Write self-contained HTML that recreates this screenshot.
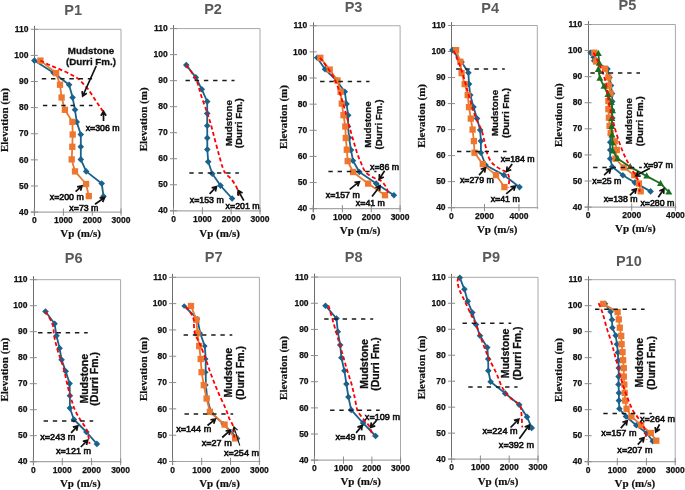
<!DOCTYPE html>
<html><head><meta charset="utf-8"><style>
html,body{margin:0;padding:0;background:#fff;}
svg{display:block;will-change:transform;filter:blur(0.35px);}
.tk{font-family:"Liberation Sans", sans-serif;font-weight:bold;font-size:8.5px;fill:#111111;stroke:#111;stroke-width:0.25px;}
.tt{font-family:"Liberation Sans", sans-serif;font-weight:bold;font-size:14.5px;fill:#595959;}
.al{font-family:"Liberation Serif", serif;font-weight:bold;font-size:11px;fill:#111111;stroke:#111;stroke-width:0.2px;}
.md{font-family:"Liberation Sans", sans-serif;font-weight:bold;font-size:9.8px;fill:#111111;stroke:#111;stroke-width:0.3px;}
.an{font-family:"Liberation Sans", sans-serif;font-size:8.8px;fill:#111111;stroke:#111;stroke-width:0.6px;}
.md.r2{font-size:10.5px;}
.an.r2{font-size:9.1px;}
</style></head><body>
<svg width="685" height="490" viewBox="0 0 685 490">
<rect width="685" height="490" fill="#fff"/>
<path d="M34.3,29.3 H121 V213.6" fill="none" stroke="#A8A8A8" stroke-width="1"/>
<path d="M30.8,212.1 H122" fill="none" stroke="#A6A6A6" stroke-width="1.2"/>
<path d="M34.5,25.8 V215.7" fill="none" stroke="#6E6E6E" stroke-width="1"/>
<path d="M30.8,29.3 H37.8" stroke="#8C8C8C" stroke-width="1"/>
<text x="28.5" y="31.95" text-anchor="end" class="tk">110</text>
<path d="M30.8,55.41 H37.8" stroke="#8C8C8C" stroke-width="1"/>
<text x="28.5" y="58.06" text-anchor="end" class="tk">100</text>
<path d="M30.8,81.53 H37.8" stroke="#8C8C8C" stroke-width="1"/>
<text x="28.5" y="84.18" text-anchor="end" class="tk">90</text>
<path d="M30.8,107.64 H37.8" stroke="#8C8C8C" stroke-width="1"/>
<text x="28.5" y="110.29" text-anchor="end" class="tk">80</text>
<path d="M30.8,133.76 H37.8" stroke="#8C8C8C" stroke-width="1"/>
<text x="28.5" y="136.41" text-anchor="end" class="tk">70</text>
<path d="M30.8,159.87 H37.8" stroke="#8C8C8C" stroke-width="1"/>
<text x="28.5" y="162.52" text-anchor="end" class="tk">60</text>
<path d="M30.8,185.99 H37.8" stroke="#8C8C8C" stroke-width="1"/>
<text x="28.5" y="188.64" text-anchor="end" class="tk">50</text>
<path d="M30.8,212.1 H37.8" stroke="#8C8C8C" stroke-width="1"/>
<text x="28.5" y="214.75" text-anchor="end" class="tk">40</text>
<path d="M34.3,208.5 V215.7" stroke="#8C8C8C" stroke-width="1"/>
<text x="34.3" y="223.2" text-anchor="middle" class="tk">0</text>
<path d="M63.4,208.5 V215.7" stroke="#8C8C8C" stroke-width="1"/>
<text x="63.4" y="223.2" text-anchor="middle" class="tk">1000</text>
<path d="M92.3,208.5 V215.7" stroke="#8C8C8C" stroke-width="1"/>
<text x="92.3" y="223.2" text-anchor="middle" class="tk">2000</text>
<path d="M121,208.5 V215.7" stroke="#8C8C8C" stroke-width="1"/>
<text x="121" y="223.2" text-anchor="middle" class="tk">3000</text>
<text x="73.1" y="14.6" text-anchor="middle" class="tt">P1</text>
<text transform="translate(8,120.1) rotate(-90)" text-anchor="middle" class="al">Elevation (m)</text>
<text x="80.65" y="236.9" text-anchor="middle" class="al">Vp (m/s)</text>
<polyline points="34.4,60.6 53.5,72.7 69.1,84.7 72.6,97.5 75,109.8 76.7,121.9 80.8,134.5 80.8,146.8 80.8,159.4 86.2,171.4 101.7,183.5 103.5,196.2" fill="none" stroke="#1A628B" stroke-width="1.8" stroke-linejoin="round"/>
<path d="M34.4,57.3 l3.3,3.3 l-3.3,3.3 l-3.3,-3.3z" fill="#1A628B"/>
<path d="M53.5,69.4 l3.3,3.3 l-3.3,3.3 l-3.3,-3.3z" fill="#1A628B"/>
<path d="M69.1,81.4 l3.3,3.3 l-3.3,3.3 l-3.3,-3.3z" fill="#1A628B"/>
<path d="M72.6,94.2 l3.3,3.3 l-3.3,3.3 l-3.3,-3.3z" fill="#1A628B"/>
<path d="M75,106.5 l3.3,3.3 l-3.3,3.3 l-3.3,-3.3z" fill="#1A628B"/>
<path d="M76.7,118.6 l3.3,3.3 l-3.3,3.3 l-3.3,-3.3z" fill="#1A628B"/>
<path d="M80.8,131.2 l3.3,3.3 l-3.3,3.3 l-3.3,-3.3z" fill="#1A628B"/>
<path d="M80.8,143.5 l3.3,3.3 l-3.3,3.3 l-3.3,-3.3z" fill="#1A628B"/>
<path d="M80.8,156.1 l3.3,3.3 l-3.3,3.3 l-3.3,-3.3z" fill="#1A628B"/>
<path d="M86.2,168.1 l3.3,3.3 l-3.3,3.3 l-3.3,-3.3z" fill="#1A628B"/>
<path d="M101.7,180.2 l3.3,3.3 l-3.3,3.3 l-3.3,-3.3z" fill="#1A628B"/>
<path d="M103.5,192.9 l3.3,3.3 l-3.3,3.3 l-3.3,-3.3z" fill="#1A628B"/>
<polyline points="40.4,60.6 56.1,73.1 60,84.7 61.6,97.5 64.9,109.8 72.4,121.9 72.7,134.5 72.3,146.8 71.7,159.4 75,171.4 86.1,184 88.8,196.1" fill="none" stroke="#EE772F" stroke-width="1.8" stroke-linejoin="round"/>
<rect x="37.25" y="57.45" width="6.3" height="6.3" fill="#EE772F"/>
<rect x="52.95" y="69.95" width="6.3" height="6.3" fill="#EE772F"/>
<rect x="56.85" y="81.55" width="6.3" height="6.3" fill="#EE772F"/>
<rect x="58.45" y="94.35" width="6.3" height="6.3" fill="#EE772F"/>
<rect x="61.75" y="106.65" width="6.3" height="6.3" fill="#EE772F"/>
<rect x="69.25" y="118.75" width="6.3" height="6.3" fill="#EE772F"/>
<rect x="69.55" y="131.35" width="6.3" height="6.3" fill="#EE772F"/>
<rect x="69.15" y="143.65" width="6.3" height="6.3" fill="#EE772F"/>
<rect x="68.55" y="156.25" width="6.3" height="6.3" fill="#EE772F"/>
<rect x="71.85" y="168.25" width="6.3" height="6.3" fill="#EE772F"/>
<rect x="82.95" y="180.85" width="6.3" height="6.3" fill="#EE772F"/>
<rect x="85.65" y="192.95" width="6.3" height="6.3" fill="#EE772F"/>
<path d="M40.4,60.5 C41.63,61.12 45.13,62.97 47.8,64.2 C50.47,65.43 53.55,66.68 56.4,67.9 C59.25,69.12 62.25,70.28 64.9,71.5 C67.55,72.72 70.05,73.97 72.3,75.2 C74.55,76.43 76.57,77.47 78.4,78.9 C80.23,80.33 81.67,82.07 83.3,83.8 C84.93,85.53 86.57,87.17 88.2,89.3 C89.83,91.43 91.47,94.15 93.1,96.6 C94.73,99.05 96.37,101.55 98,104 C99.63,106.45 102.08,110.08 102.9,111.3" fill="none" stroke="#FF0000" stroke-width="1.8" stroke-dasharray="4 2.6"/>
<path d="M41.8,78.8 H92.1" stroke="#1A1A1A" stroke-width="1.5" stroke-dasharray="4.4 4.8"/>
<path d="M42.9,105.6 H92.5" stroke="#1A1A1A" stroke-width="1.5" stroke-dasharray="4.4 4.8"/>
<text x="91" y="53.9" text-anchor="middle" class="md">Mudstone</text>
<text x="91" y="64.6" text-anchor="middle" class="md">(Durri Fm.)</text>
<path d="M96.2,66 L82.7,96 M82.07,91.04 L82.7,96 L86.83,93.19" fill="none" stroke="#111" stroke-width="1.7" stroke-linejoin="miter"/>
<path d="M103.5,121 L103.5,111.5 M106.11,115.76 L103.5,111.5 L100.89,115.76" fill="none" stroke="#111" stroke-width="1.7" stroke-linejoin="miter"/>
<path d="M75.6,191.7 L82,185.9 M80.6,190.7 L82,185.9 L77.09,186.83" fill="none" stroke="#111" stroke-width="1.7" stroke-linejoin="miter"/>
<path d="M95,204.3 L104.6,197.5 M102.63,202.1 L104.6,197.5 L99.61,197.83" fill="none" stroke="#111" stroke-width="1.7" stroke-linejoin="miter"/>
<text x="102.7" y="130.5" text-anchor="middle" class="an">x=306 m</text>
<text x="66.8" y="200.3" text-anchor="middle" class="an">x=200 m</text>
<text x="83.9" y="211.3" text-anchor="middle" class="an">x=73 m</text>
<path d="M173.5,28.6 H260 V212.3" fill="none" stroke="#A8A8A8" stroke-width="1"/>
<path d="M170,210.8 H261" fill="none" stroke="#A6A6A6" stroke-width="1.2"/>
<path d="M173.5,25.1 V214.4" fill="none" stroke="#6E6E6E" stroke-width="1"/>
<path d="M170,28.6 H177" stroke="#8C8C8C" stroke-width="1"/>
<text x="167.7" y="31.25" text-anchor="end" class="tk">110</text>
<path d="M170,54.63 H177" stroke="#8C8C8C" stroke-width="1"/>
<text x="167.7" y="57.28" text-anchor="end" class="tk">100</text>
<path d="M170,80.66 H177" stroke="#8C8C8C" stroke-width="1"/>
<text x="167.7" y="83.31" text-anchor="end" class="tk">90</text>
<path d="M170,106.69 H177" stroke="#8C8C8C" stroke-width="1"/>
<text x="167.7" y="109.34" text-anchor="end" class="tk">80</text>
<path d="M170,132.71 H177" stroke="#8C8C8C" stroke-width="1"/>
<text x="167.7" y="135.36" text-anchor="end" class="tk">70</text>
<path d="M170,158.74 H177" stroke="#8C8C8C" stroke-width="1"/>
<text x="167.7" y="161.39" text-anchor="end" class="tk">60</text>
<path d="M170,184.77 H177" stroke="#8C8C8C" stroke-width="1"/>
<text x="167.7" y="187.42" text-anchor="end" class="tk">50</text>
<path d="M170,210.8 H177" stroke="#8C8C8C" stroke-width="1"/>
<text x="167.7" y="213.45" text-anchor="end" class="tk">40</text>
<path d="M173.5,207.2 V214.4" stroke="#8C8C8C" stroke-width="1"/>
<text x="173.5" y="221.9" text-anchor="middle" class="tk">0</text>
<path d="M202.4,207.2 V214.4" stroke="#8C8C8C" stroke-width="1"/>
<text x="202.4" y="221.9" text-anchor="middle" class="tk">1000</text>
<path d="M231.2,207.2 V214.4" stroke="#8C8C8C" stroke-width="1"/>
<text x="231.2" y="221.9" text-anchor="middle" class="tk">2000</text>
<path d="M260,207.2 V214.4" stroke="#8C8C8C" stroke-width="1"/>
<text x="260" y="221.9" text-anchor="middle" class="tk">3000</text>
<text x="213" y="14.4" text-anchor="middle" class="tt">P2</text>
<text transform="translate(147.3,119.35) rotate(-90)" text-anchor="middle" class="al">Elevation (m)</text>
<text x="219.6" y="236.6" text-anchor="middle" class="al">Vp (m/s)</text>
<polyline points="186.3,65.1 195.8,77.4 201.8,89.3 207.2,101.5 207.2,113.4 207.2,125.8 207.3,137.9 207.3,149.4 208.2,161.8 212.3,173.7 220.5,185.6 232.1,198.5" fill="none" stroke="#1A628B" stroke-width="1.8" stroke-linejoin="round"/>
<path d="M186.3,61.8 l3.3,3.3 l-3.3,3.3 l-3.3,-3.3z" fill="#1A628B"/>
<path d="M195.8,74.1 l3.3,3.3 l-3.3,3.3 l-3.3,-3.3z" fill="#1A628B"/>
<path d="M201.8,86 l3.3,3.3 l-3.3,3.3 l-3.3,-3.3z" fill="#1A628B"/>
<path d="M207.2,98.2 l3.3,3.3 l-3.3,3.3 l-3.3,-3.3z" fill="#1A628B"/>
<path d="M207.2,110.1 l3.3,3.3 l-3.3,3.3 l-3.3,-3.3z" fill="#1A628B"/>
<path d="M207.2,122.5 l3.3,3.3 l-3.3,3.3 l-3.3,-3.3z" fill="#1A628B"/>
<path d="M207.3,134.6 l3.3,3.3 l-3.3,3.3 l-3.3,-3.3z" fill="#1A628B"/>
<path d="M207.3,146.1 l3.3,3.3 l-3.3,3.3 l-3.3,-3.3z" fill="#1A628B"/>
<path d="M208.2,158.5 l3.3,3.3 l-3.3,3.3 l-3.3,-3.3z" fill="#1A628B"/>
<path d="M212.3,170.4 l3.3,3.3 l-3.3,3.3 l-3.3,-3.3z" fill="#1A628B"/>
<path d="M220.5,182.3 l3.3,3.3 l-3.3,3.3 l-3.3,-3.3z" fill="#1A628B"/>
<path d="M232.1,195.2 l3.3,3.3 l-3.3,3.3 l-3.3,-3.3z" fill="#1A628B"/>
<path d="M186.3,65.1 C187.93,67.5 193.62,74.38 196.1,79.5 C198.58,84.62 199.38,90.35 201.2,95.8 C203.02,101.25 205.48,107.77 207,112.2 C208.52,116.63 209.17,118.52 210.3,122.4 C211.43,126.28 212.43,130.38 213.8,135.5 C215.17,140.62 217.03,147.8 218.5,153.1 C219.97,158.4 221.42,163.9 222.6,167.3 C223.78,170.7 224.08,171.45 225.6,173.5 C227.12,175.55 229.83,177.22 231.7,179.6 C233.57,181.98 235.65,185.32 236.8,187.8 C237.95,190.28 238.27,192.88 238.6,194.5 C238.93,196.12 238.77,197 238.8,197.5" fill="none" stroke="#FF0000" stroke-width="1.8" stroke-dasharray="4 2.6"/>
<path d="M185.5,80.4 H234.5" stroke="#1A1A1A" stroke-width="1.5" stroke-dasharray="4.4 4.8"/>
<path d="M189.3,173.1 H238.9" stroke="#1A1A1A" stroke-width="1.5" stroke-dasharray="4.4 4.8"/>
<text transform="translate(231.6,123.2) rotate(-90)" text-anchor="middle" class="md">Mudstone</text>
<text transform="translate(242,123.2) rotate(-90)" text-anchor="middle" class="md">(Durri Fm.)</text>
<path d="M209.6,193.8 L216.5,186.6 M215.44,191.49 L216.5,186.6 L211.66,187.87" fill="none" stroke="#111" stroke-width="1.7" stroke-linejoin="miter"/>
<path d="M243.8,200.7 L238.2,190.5 M242.54,192.98 L238.2,190.5 L237.96,195.49" fill="none" stroke="#111" stroke-width="1.7" stroke-linejoin="miter"/>
<text x="206.8" y="202.5" text-anchor="middle" class="an">x=153 m</text>
<text x="242.6" y="208.6" text-anchor="middle" class="an">x=201 m</text>
<path d="M313.1,25.75 H400.1 V210.2" fill="none" stroke="#A8A8A8" stroke-width="1"/>
<path d="M309.6,208.7 H401.1" fill="none" stroke="#A6A6A6" stroke-width="1.2"/>
<path d="M313.5,22.25 V212.3" fill="none" stroke="#6E6E6E" stroke-width="1"/>
<path d="M309.6,25.75 H316.6" stroke="#8C8C8C" stroke-width="1"/>
<text x="307.3" y="28.4" text-anchor="end" class="tk">110</text>
<path d="M309.6,51.89 H316.6" stroke="#8C8C8C" stroke-width="1"/>
<text x="307.3" y="54.54" text-anchor="end" class="tk">100</text>
<path d="M309.6,78.02 H316.6" stroke="#8C8C8C" stroke-width="1"/>
<text x="307.3" y="80.67" text-anchor="end" class="tk">90</text>
<path d="M309.6,104.16 H316.6" stroke="#8C8C8C" stroke-width="1"/>
<text x="307.3" y="106.81" text-anchor="end" class="tk">80</text>
<path d="M309.6,130.29 H316.6" stroke="#8C8C8C" stroke-width="1"/>
<text x="307.3" y="132.94" text-anchor="end" class="tk">70</text>
<path d="M309.6,156.43 H316.6" stroke="#8C8C8C" stroke-width="1"/>
<text x="307.3" y="159.08" text-anchor="end" class="tk">60</text>
<path d="M309.6,182.56 H316.6" stroke="#8C8C8C" stroke-width="1"/>
<text x="307.3" y="185.21" text-anchor="end" class="tk">50</text>
<path d="M309.6,208.7 H316.6" stroke="#8C8C8C" stroke-width="1"/>
<text x="307.3" y="211.35" text-anchor="end" class="tk">40</text>
<path d="M313.1,205.1 V212.3" stroke="#8C8C8C" stroke-width="1"/>
<text x="313.1" y="219.8" text-anchor="middle" class="tk">0</text>
<path d="M342.4,205.1 V212.3" stroke="#8C8C8C" stroke-width="1"/>
<text x="342.4" y="219.8" text-anchor="middle" class="tk">1000</text>
<path d="M371.3,205.1 V212.3" stroke="#8C8C8C" stroke-width="1"/>
<text x="371.3" y="219.8" text-anchor="middle" class="tk">2000</text>
<path d="M400.1,205.1 V212.3" stroke="#8C8C8C" stroke-width="1"/>
<text x="400.1" y="219.8" text-anchor="middle" class="tk">3000</text>
<text x="353.5" y="12" text-anchor="middle" class="tt">P3</text>
<text transform="translate(287.3,117) rotate(-90)" text-anchor="middle" class="al">Elevation (m)</text>
<text x="360.1" y="234" text-anchor="middle" class="al">Vp (m/s)</text>
<polyline points="317.2,57.7 325,69.3 336.6,80.5 344.8,91.8 346.5,103.9 348.2,115.2 348,126.5 349.1,137.8 351,150 353,160.7 359.4,172 376.2,183.6 393.9,195.2" fill="none" stroke="#1A628B" stroke-width="1.8" stroke-linejoin="round"/>
<path d="M317.2,54.4 l3.3,3.3 l-3.3,3.3 l-3.3,-3.3z" fill="#1A628B"/>
<path d="M325,66 l3.3,3.3 l-3.3,3.3 l-3.3,-3.3z" fill="#1A628B"/>
<path d="M336.6,77.2 l3.3,3.3 l-3.3,3.3 l-3.3,-3.3z" fill="#1A628B"/>
<path d="M344.8,88.5 l3.3,3.3 l-3.3,3.3 l-3.3,-3.3z" fill="#1A628B"/>
<path d="M346.5,100.6 l3.3,3.3 l-3.3,3.3 l-3.3,-3.3z" fill="#1A628B"/>
<path d="M348.2,111.9 l3.3,3.3 l-3.3,3.3 l-3.3,-3.3z" fill="#1A628B"/>
<path d="M348,123.2 l3.3,3.3 l-3.3,3.3 l-3.3,-3.3z" fill="#1A628B"/>
<path d="M349.1,134.5 l3.3,3.3 l-3.3,3.3 l-3.3,-3.3z" fill="#1A628B"/>
<path d="M351,146.7 l3.3,3.3 l-3.3,3.3 l-3.3,-3.3z" fill="#1A628B"/>
<path d="M353,157.4 l3.3,3.3 l-3.3,3.3 l-3.3,-3.3z" fill="#1A628B"/>
<path d="M359.4,168.7 l3.3,3.3 l-3.3,3.3 l-3.3,-3.3z" fill="#1A628B"/>
<path d="M376.2,180.3 l3.3,3.3 l-3.3,3.3 l-3.3,-3.3z" fill="#1A628B"/>
<path d="M393.9,191.9 l3.3,3.3 l-3.3,3.3 l-3.3,-3.3z" fill="#1A628B"/>
<polyline points="320.3,57.8 329.7,69.6 337.5,80.5 340.6,91.8 341.8,103.6 343.5,115.2 345.3,126.5 345.8,138 346.8,149.7 347.7,161.1 353,172 368.1,183.6 385,195.2" fill="none" stroke="#EE772F" stroke-width="1.8" stroke-linejoin="round"/>
<rect x="317.15" y="54.65" width="6.3" height="6.3" fill="#EE772F"/>
<rect x="326.55" y="66.45" width="6.3" height="6.3" fill="#EE772F"/>
<rect x="334.35" y="77.35" width="6.3" height="6.3" fill="#EE772F"/>
<rect x="337.45" y="88.65" width="6.3" height="6.3" fill="#EE772F"/>
<rect x="338.65" y="100.45" width="6.3" height="6.3" fill="#EE772F"/>
<rect x="340.35" y="112.05" width="6.3" height="6.3" fill="#EE772F"/>
<rect x="342.15" y="123.35" width="6.3" height="6.3" fill="#EE772F"/>
<rect x="342.65" y="134.85" width="6.3" height="6.3" fill="#EE772F"/>
<rect x="343.65" y="146.55" width="6.3" height="6.3" fill="#EE772F"/>
<rect x="344.55" y="157.95" width="6.3" height="6.3" fill="#EE772F"/>
<rect x="349.85" y="168.85" width="6.3" height="6.3" fill="#EE772F"/>
<rect x="364.95" y="180.45" width="6.3" height="6.3" fill="#EE772F"/>
<rect x="381.85" y="192.05" width="6.3" height="6.3" fill="#EE772F"/>
<path d="M320.1,57.7 C322.42,61.08 330.35,70.95 334,78 C337.65,85.05 339.72,93 342,100 C344.28,107 346.42,115.37 347.7,120 C348.98,124.63 348.72,124.25 349.7,127.8 C350.68,131.35 352.32,136.93 353.6,141.3 C354.88,145.67 356.15,150.38 357.4,154 C358.65,157.62 359.75,160 361.1,163 C362.45,166 363.48,169.58 365.5,172 C367.52,174.42 370.63,176.03 373.2,177.5 C375.77,178.97 378.72,179.15 380.9,180.8 C383.08,182.45 385.03,185.03 386.3,187.4 C387.57,189.77 388.13,193.73 388.5,195" fill="none" stroke="#FF0000" stroke-width="1.8" stroke-dasharray="4 2.6"/>
<path d="M320.1,81.4 H369.5" stroke="#1A1A1A" stroke-width="1.5" stroke-dasharray="4.4 4.8"/>
<path d="M328.4,171.4 H376.5" stroke="#1A1A1A" stroke-width="1.5" stroke-dasharray="4.4 4.8"/>
<text transform="translate(370.7,124.5) rotate(-90)" text-anchor="middle" class="md">Mudstone</text>
<text transform="translate(381.5,124.5) rotate(-90)" text-anchor="middle" class="md">(Durri Fm.)</text>
<path d="M384.6,170.8 L379.3,179.1 M379.39,174.1 L379.3,179.1 L383.8,176.91" fill="none" stroke="#111" stroke-width="1.7" stroke-linejoin="miter"/>
<path d="M349.7,189.4 L359.4,181.7 M357.69,186.4 L359.4,181.7 L354.44,182.3" fill="none" stroke="#111" stroke-width="1.7" stroke-linejoin="miter"/>
<path d="M372,196.6 L380.1,185.9 M379.61,190.88 L380.1,185.9 L375.44,187.72" fill="none" stroke="#111" stroke-width="1.7" stroke-linejoin="miter"/>
<text x="384.6" y="169.6" text-anchor="middle" class="an">x=86 m</text>
<text x="342.8" y="197.7" text-anchor="middle" class="an">x=157 m</text>
<text x="370.4" y="205.5" text-anchor="middle" class="an">x=41 m</text>
<path d="M451.4,25.5 H537.3 V209.2" fill="none" stroke="#A8A8A8" stroke-width="1"/>
<path d="M447.9,207.7 H538.3" fill="none" stroke="#A6A6A6" stroke-width="1.2"/>
<path d="M451.5,22 V211.3" fill="none" stroke="#6E6E6E" stroke-width="1"/>
<path d="M447.9,25.5 H454.9" stroke="#8C8C8C" stroke-width="1"/>
<text x="445.6" y="28.15" text-anchor="end" class="tk">110</text>
<path d="M447.9,51.53 H454.9" stroke="#8C8C8C" stroke-width="1"/>
<text x="445.6" y="54.18" text-anchor="end" class="tk">100</text>
<path d="M447.9,77.56 H454.9" stroke="#8C8C8C" stroke-width="1"/>
<text x="445.6" y="80.21" text-anchor="end" class="tk">90</text>
<path d="M447.9,103.59 H454.9" stroke="#8C8C8C" stroke-width="1"/>
<text x="445.6" y="106.24" text-anchor="end" class="tk">80</text>
<path d="M447.9,129.61 H454.9" stroke="#8C8C8C" stroke-width="1"/>
<text x="445.6" y="132.26" text-anchor="end" class="tk">70</text>
<path d="M447.9,155.64 H454.9" stroke="#8C8C8C" stroke-width="1"/>
<text x="445.6" y="158.29" text-anchor="end" class="tk">60</text>
<path d="M447.9,181.67 H454.9" stroke="#8C8C8C" stroke-width="1"/>
<text x="445.6" y="184.32" text-anchor="end" class="tk">50</text>
<path d="M447.9,207.7 H454.9" stroke="#8C8C8C" stroke-width="1"/>
<text x="445.6" y="210.35" text-anchor="end" class="tk">40</text>
<path d="M451.4,204.1 V211.3" stroke="#8C8C8C" stroke-width="1"/>
<text x="451.4" y="218.8" text-anchor="middle" class="tk">0</text>
<path d="M484.5,204.1 V211.3" stroke="#8C8C8C" stroke-width="1"/>
<text x="484.5" y="218.8" text-anchor="middle" class="tk">2000</text>
<path d="M519,204.1 V211.3" stroke="#8C8C8C" stroke-width="1"/>
<text x="519" y="218.8" text-anchor="middle" class="tk">4000</text>
<text x="490.2" y="12.6" text-anchor="middle" class="tt">P4</text>
<text transform="translate(425.3,115.9) rotate(-90)" text-anchor="middle" class="al">Elevation (m)</text>
<text x="497.2" y="233" text-anchor="middle" class="al">Vp (m/s)</text>
<polyline points="452.4,50.1 461.6,62 468.4,72.7 469,84.1 470.3,95.1 473.5,107 477,118.6 480.2,130.1 480.9,141.1 480.9,152.7 485.5,165 503.9,175.1 519.5,187.1" fill="none" stroke="#1A628B" stroke-width="1.8" stroke-linejoin="round"/>
<path d="M452.4,46.8 l3.3,3.3 l-3.3,3.3 l-3.3,-3.3z" fill="#1A628B"/>
<path d="M461.6,58.7 l3.3,3.3 l-3.3,3.3 l-3.3,-3.3z" fill="#1A628B"/>
<path d="M468.4,69.4 l3.3,3.3 l-3.3,3.3 l-3.3,-3.3z" fill="#1A628B"/>
<path d="M469,80.8 l3.3,3.3 l-3.3,3.3 l-3.3,-3.3z" fill="#1A628B"/>
<path d="M470.3,91.8 l3.3,3.3 l-3.3,3.3 l-3.3,-3.3z" fill="#1A628B"/>
<path d="M473.5,103.7 l3.3,3.3 l-3.3,3.3 l-3.3,-3.3z" fill="#1A628B"/>
<path d="M477,115.3 l3.3,3.3 l-3.3,3.3 l-3.3,-3.3z" fill="#1A628B"/>
<path d="M480.2,126.8 l3.3,3.3 l-3.3,3.3 l-3.3,-3.3z" fill="#1A628B"/>
<path d="M480.9,137.8 l3.3,3.3 l-3.3,3.3 l-3.3,-3.3z" fill="#1A628B"/>
<path d="M480.9,149.4 l3.3,3.3 l-3.3,3.3 l-3.3,-3.3z" fill="#1A628B"/>
<path d="M485.5,161.7 l3.3,3.3 l-3.3,3.3 l-3.3,-3.3z" fill="#1A628B"/>
<path d="M503.9,171.8 l3.3,3.3 l-3.3,3.3 l-3.3,-3.3z" fill="#1A628B"/>
<path d="M519.5,183.8 l3.3,3.3 l-3.3,3.3 l-3.3,-3.3z" fill="#1A628B"/>
<polyline points="456.1,50.1 460.3,61.7 461.6,73.1 464.7,84.1 467.7,95.1 469,107.1 470.8,118.6 472.6,129.6 473.9,141.1 474.5,152.7 482.8,164.1 496,175.1 504.4,187.1" fill="none" stroke="#EE772F" stroke-width="1.8" stroke-linejoin="round"/>
<rect x="452.95" y="46.95" width="6.3" height="6.3" fill="#EE772F"/>
<rect x="457.15" y="58.55" width="6.3" height="6.3" fill="#EE772F"/>
<rect x="458.45" y="69.95" width="6.3" height="6.3" fill="#EE772F"/>
<rect x="461.55" y="80.95" width="6.3" height="6.3" fill="#EE772F"/>
<rect x="464.55" y="91.95" width="6.3" height="6.3" fill="#EE772F"/>
<rect x="465.85" y="103.95" width="6.3" height="6.3" fill="#EE772F"/>
<rect x="467.65" y="115.45" width="6.3" height="6.3" fill="#EE772F"/>
<rect x="469.45" y="126.45" width="6.3" height="6.3" fill="#EE772F"/>
<rect x="470.75" y="137.95" width="6.3" height="6.3" fill="#EE772F"/>
<rect x="471.35" y="149.55" width="6.3" height="6.3" fill="#EE772F"/>
<rect x="479.65" y="160.95" width="6.3" height="6.3" fill="#EE772F"/>
<rect x="492.85" y="171.95" width="6.3" height="6.3" fill="#EE772F"/>
<rect x="501.25" y="183.95" width="6.3" height="6.3" fill="#EE772F"/>
<path d="M453.5,50.5 C454.83,53.75 459.2,63.42 461.5,70 C463.8,76.58 465.38,83.33 467.3,90 C469.22,96.67 471.42,105 473,110 C474.58,115 475.33,116.5 476.8,120 C478.27,123.5 480.5,127.33 481.8,131 C483.1,134.67 483.82,138.78 484.6,142 C485.38,145.22 485.97,148.05 486.5,150.3 C487.03,152.55 486.98,153.53 487.8,155.5 C488.62,157.47 489.95,160.23 491.4,162.1 C492.85,163.97 494.8,165.42 496.5,166.7 C498.2,167.98 500.07,168.95 501.6,169.8 C503.13,170.65 504.58,170.95 505.7,171.8 C506.82,172.65 507.7,173.78 508.3,174.9 C508.9,176.02 509.18,177.22 509.3,178.5 C509.42,179.78 509.17,181.07 509,182.6 C508.83,184.13 508.42,186.85 508.3,187.7" fill="none" stroke="#FF0000" stroke-width="1.8" stroke-dasharray="4 2.6"/>
<path d="M456.1,69 H504.8" stroke="#1A1A1A" stroke-width="1.5" stroke-dasharray="4.4 4.8"/>
<path d="M457,151.6 H506.6" stroke="#1A1A1A" stroke-width="1.5" stroke-dasharray="4.4 4.8"/>
<text transform="translate(497.6,113) rotate(-90)" text-anchor="middle" class="md">Mudstone</text>
<text transform="translate(508.5,113) rotate(-90)" text-anchor="middle" class="md">(Durri Fm.)</text>
<path d="M512.2,164.1 L506.6,171.5 M507.09,166.52 L506.6,171.5 L511.26,169.68" fill="none" stroke="#111" stroke-width="1.7" stroke-linejoin="miter"/>
<path d="M479.1,175.1 L485.5,167.8 M484.66,172.73 L485.5,167.8 L480.72,169.28" fill="none" stroke="#111" stroke-width="1.7" stroke-linejoin="miter"/>
<path d="M506.2,193.8 L515.4,186.1 M513.81,190.84 L515.4,186.1 L510.45,186.83" fill="none" stroke="#111" stroke-width="1.7" stroke-linejoin="miter"/>
<text x="517.7" y="162.2" text-anchor="middle" class="an">x=184 m</text>
<text x="476.9" y="183.2" text-anchor="middle" class="an">x=279 m</text>
<text x="505.2" y="201.7" text-anchor="middle" class="an">x=41 m</text>
<path d="M588.1,24.5 H675.4 V208.6" fill="none" stroke="#A8A8A8" stroke-width="1"/>
<path d="M584.6,207.1 H676.4" fill="none" stroke="#A6A6A6" stroke-width="1.2"/>
<path d="M588.5,21 V210.7" fill="none" stroke="#6E6E6E" stroke-width="1"/>
<path d="M584.6,24.5 H591.6" stroke="#8C8C8C" stroke-width="1"/>
<text x="582.3" y="27.15" text-anchor="end" class="tk">110</text>
<path d="M584.6,50.59 H591.6" stroke="#8C8C8C" stroke-width="1"/>
<text x="582.3" y="53.24" text-anchor="end" class="tk">100</text>
<path d="M584.6,76.67 H591.6" stroke="#8C8C8C" stroke-width="1"/>
<text x="582.3" y="79.32" text-anchor="end" class="tk">90</text>
<path d="M584.6,102.76 H591.6" stroke="#8C8C8C" stroke-width="1"/>
<text x="582.3" y="105.41" text-anchor="end" class="tk">80</text>
<path d="M584.6,128.84 H591.6" stroke="#8C8C8C" stroke-width="1"/>
<text x="582.3" y="131.49" text-anchor="end" class="tk">70</text>
<path d="M584.6,154.93 H591.6" stroke="#8C8C8C" stroke-width="1"/>
<text x="582.3" y="157.58" text-anchor="end" class="tk">60</text>
<path d="M584.6,181.01 H591.6" stroke="#8C8C8C" stroke-width="1"/>
<text x="582.3" y="183.66" text-anchor="end" class="tk">50</text>
<path d="M584.6,207.1 H591.6" stroke="#8C8C8C" stroke-width="1"/>
<text x="582.3" y="209.75" text-anchor="end" class="tk">40</text>
<path d="M588.1,203.5 V210.7" stroke="#8C8C8C" stroke-width="1"/>
<text x="588.1" y="218.2" text-anchor="middle" class="tk">0</text>
<path d="M631.7,203.5 V210.7" stroke="#8C8C8C" stroke-width="1"/>
<text x="631.7" y="218.2" text-anchor="middle" class="tk">2000</text>
<path d="M675.4,203.5 V210.7" stroke="#8C8C8C" stroke-width="1"/>
<text x="675.4" y="218.2" text-anchor="middle" class="tk">4000</text>
<text x="627.4" y="10.3" text-anchor="middle" class="tt">P5</text>
<text transform="translate(561.8,115.2) rotate(-90)" text-anchor="middle" class="al">Elevation (m)</text>
<text x="635.4" y="232.4" text-anchor="middle" class="al">Vp (m/s)</text>
<polyline points="590.6,52.7 593.7,57.2 594.2,60.8 607.5,69 609.5,77.5 611,85.5 612,93.5 612.3,101.5 612,110 612.3,118 611.5,126 610.8,134 610.2,142.3 610.2,150 610.2,158.7 612.2,166.8 622.8,175.2 634.8,182.6 650.6,191.4" fill="none" stroke="#1A628B" stroke-width="1.8" stroke-linejoin="round"/>
<path d="M590.6,49.4 l3.3,3.3 l-3.3,3.3 l-3.3,-3.3z" fill="#1A628B"/>
<path d="M593.7,53.9 l3.3,3.3 l-3.3,3.3 l-3.3,-3.3z" fill="#1A628B"/>
<path d="M594.2,57.5 l3.3,3.3 l-3.3,3.3 l-3.3,-3.3z" fill="#1A628B"/>
<path d="M607.5,65.7 l3.3,3.3 l-3.3,3.3 l-3.3,-3.3z" fill="#1A628B"/>
<path d="M609.5,74.2 l3.3,3.3 l-3.3,3.3 l-3.3,-3.3z" fill="#1A628B"/>
<path d="M611,82.2 l3.3,3.3 l-3.3,3.3 l-3.3,-3.3z" fill="#1A628B"/>
<path d="M612,90.2 l3.3,3.3 l-3.3,3.3 l-3.3,-3.3z" fill="#1A628B"/>
<path d="M612.3,98.2 l3.3,3.3 l-3.3,3.3 l-3.3,-3.3z" fill="#1A628B"/>
<path d="M612,106.7 l3.3,3.3 l-3.3,3.3 l-3.3,-3.3z" fill="#1A628B"/>
<path d="M612.3,114.7 l3.3,3.3 l-3.3,3.3 l-3.3,-3.3z" fill="#1A628B"/>
<path d="M611.5,122.7 l3.3,3.3 l-3.3,3.3 l-3.3,-3.3z" fill="#1A628B"/>
<path d="M610.8,130.7 l3.3,3.3 l-3.3,3.3 l-3.3,-3.3z" fill="#1A628B"/>
<path d="M610.2,139 l3.3,3.3 l-3.3,3.3 l-3.3,-3.3z" fill="#1A628B"/>
<path d="M610.2,146.7 l3.3,3.3 l-3.3,3.3 l-3.3,-3.3z" fill="#1A628B"/>
<path d="M610.2,155.4 l3.3,3.3 l-3.3,3.3 l-3.3,-3.3z" fill="#1A628B"/>
<path d="M612.2,163.5 l3.3,3.3 l-3.3,3.3 l-3.3,-3.3z" fill="#1A628B"/>
<path d="M622.8,171.9 l3.3,3.3 l-3.3,3.3 l-3.3,-3.3z" fill="#1A628B"/>
<path d="M634.8,179.3 l3.3,3.3 l-3.3,3.3 l-3.3,-3.3z" fill="#1A628B"/>
<path d="M650.6,188.1 l3.3,3.3 l-3.3,3.3 l-3.3,-3.3z" fill="#1A628B"/>
<polyline points="594.3,52.7 596,61.5 605,68.7 608.4,77.4 608.9,85.6 610.5,93.5 608.4,101.1 608.4,109.2 608.9,117.7 609.6,126 610.7,133.2 614.8,141.3 616.8,150 615.5,158.7 623.7,167.4 634.3,175.2 638.9,183.5 640.7,191.3" fill="none" stroke="#EE772F" stroke-width="1.8" stroke-linejoin="round"/>
<rect x="591.15" y="49.55" width="6.3" height="6.3" fill="#EE772F"/>
<rect x="592.85" y="58.35" width="6.3" height="6.3" fill="#EE772F"/>
<rect x="601.85" y="65.55" width="6.3" height="6.3" fill="#EE772F"/>
<rect x="605.25" y="74.25" width="6.3" height="6.3" fill="#EE772F"/>
<rect x="605.75" y="82.45" width="6.3" height="6.3" fill="#EE772F"/>
<rect x="607.35" y="90.35" width="6.3" height="6.3" fill="#EE772F"/>
<rect x="605.25" y="97.95" width="6.3" height="6.3" fill="#EE772F"/>
<rect x="605.25" y="106.05" width="6.3" height="6.3" fill="#EE772F"/>
<rect x="605.75" y="114.55" width="6.3" height="6.3" fill="#EE772F"/>
<rect x="606.45" y="122.85" width="6.3" height="6.3" fill="#EE772F"/>
<rect x="607.55" y="130.05" width="6.3" height="6.3" fill="#EE772F"/>
<rect x="611.65" y="138.15" width="6.3" height="6.3" fill="#EE772F"/>
<rect x="613.65" y="146.85" width="6.3" height="6.3" fill="#EE772F"/>
<rect x="612.35" y="155.55" width="6.3" height="6.3" fill="#EE772F"/>
<rect x="620.55" y="164.25" width="6.3" height="6.3" fill="#EE772F"/>
<rect x="631.15" y="172.05" width="6.3" height="6.3" fill="#EE772F"/>
<rect x="635.75" y="180.35" width="6.3" height="6.3" fill="#EE772F"/>
<rect x="637.55" y="188.15" width="6.3" height="6.3" fill="#EE772F"/>
<polyline points="598.3,53.5 599.3,63.4 598.3,69.5 599.9,78.3 604,86.4 608,94.6 611.3,102.7 612.5,110.9 611.8,118.7 611.7,126.5 612,135 612.4,142.9 612.8,151 617.5,158.5 630.2,166.9 646.7,176.1 660.5,183.5 668.8,192.2" fill="none" stroke="#1B6E20" stroke-width="1.8" stroke-linejoin="round"/>
<path d="M598.3,49.7 l3.5,6.2 h-7z" fill="#1B6E20"/>
<path d="M599.3,59.6 l3.5,6.2 h-7z" fill="#1B6E20"/>
<path d="M598.3,65.7 l3.5,6.2 h-7z" fill="#1B6E20"/>
<path d="M599.9,74.5 l3.5,6.2 h-7z" fill="#1B6E20"/>
<path d="M604,82.6 l3.5,6.2 h-7z" fill="#1B6E20"/>
<path d="M608,90.8 l3.5,6.2 h-7z" fill="#1B6E20"/>
<path d="M611.3,98.9 l3.5,6.2 h-7z" fill="#1B6E20"/>
<path d="M612.5,107.1 l3.5,6.2 h-7z" fill="#1B6E20"/>
<path d="M611.8,114.9 l3.5,6.2 h-7z" fill="#1B6E20"/>
<path d="M611.7,122.7 l3.5,6.2 h-7z" fill="#1B6E20"/>
<path d="M612,131.2 l3.5,6.2 h-7z" fill="#1B6E20"/>
<path d="M612.4,139.1 l3.5,6.2 h-7z" fill="#1B6E20"/>
<path d="M612.8,147.2 l3.5,6.2 h-7z" fill="#1B6E20"/>
<path d="M617.5,154.7 l3.5,6.2 h-7z" fill="#1B6E20"/>
<path d="M630.2,163.1 l3.5,6.2 h-7z" fill="#1B6E20"/>
<path d="M646.7,172.3 l3.5,6.2 h-7z" fill="#1B6E20"/>
<path d="M660.5,179.7 l3.5,6.2 h-7z" fill="#1B6E20"/>
<path d="M668.8,188.4 l3.5,6.2 h-7z" fill="#1B6E20"/>
<path d="M593.7,52.7 C594.5,54.33 596.97,59.15 598.5,62.5 C600.03,65.85 601.72,69.5 602.9,72.8 C604.08,76.1 604.82,78.82 605.6,82.3 C606.38,85.78 607.13,90.7 607.6,93.7 C608.07,96.7 607.85,97.17 608.4,100.3 C608.95,103.43 610.05,108.75 610.9,112.5 C611.75,116.25 612.6,119.35 613.5,122.8 C614.4,126.25 615.15,129.43 616.3,133.2 C617.45,136.97 619.03,141.67 620.4,145.4 C621.77,149.13 623.13,152.53 624.5,155.6 C625.87,158.67 627.27,161.3 628.6,163.8 C629.93,166.3 631.25,168.55 632.5,170.6 C633.75,172.65 635.03,174.1 636.1,176.1 C637.17,178.1 638.32,179.98 638.9,182.6 C639.48,185.22 639.48,190.27 639.6,191.8" fill="none" stroke="#FF0000" stroke-width="1.8" stroke-dasharray="4 2.6"/>
<path d="M590.4,73 H640" stroke="#1A1A1A" stroke-width="1.5" stroke-dasharray="4.4 4.8"/>
<path d="M593.1,167.4 H641.8" stroke="#1A1A1A" stroke-width="1.5" stroke-dasharray="4.4 4.8"/>
<text transform="translate(632.1,121.3) rotate(-90)" text-anchor="middle" class="md">Mudstone</text>
<text transform="translate(643,121.3) rotate(-90)" text-anchor="middle" class="md">(Durri Fm.)</text>
<path d="M649.9,168.3 L635.7,175.7 M638.27,171.41 L635.7,175.7 L640.69,176.05" fill="none" stroke="#111" stroke-width="1.7" stroke-linejoin="miter"/>
<path d="M604.1,175.1 L610.7,168.9 M609.38,173.72 L610.7,168.9 L605.8,169.91" fill="none" stroke="#111" stroke-width="1.7" stroke-linejoin="miter"/>
<path d="M629.9,195.3 L636.3,188.9 M635.13,193.76 L636.3,188.9 L631.44,190.07" fill="none" stroke="#111" stroke-width="1.7" stroke-linejoin="miter"/>
<path d="M658.3,197.2 L663.9,188.9 M663.68,193.9 L663.9,188.9 L659.35,190.97" fill="none" stroke="#111" stroke-width="1.7" stroke-linejoin="miter"/>
<text x="658.2" y="167.8" text-anchor="middle" class="an">x=97 m</text>
<text x="606.9" y="183.7" text-anchor="middle" class="an">x=25 m</text>
<text x="620.7" y="201.5" text-anchor="middle" class="an">x=138 m</text>
<text x="657.4" y="205.8" text-anchor="middle" class="an">x=280 m</text>
<path d="M33.3,279.7 H120.6 V463.2" fill="none" stroke="#A8A8A8" stroke-width="1"/>
<path d="M29.8,461.7 H121.6" fill="none" stroke="#A6A6A6" stroke-width="1.2"/>
<path d="M33.5,276.2 V465.3" fill="none" stroke="#6E6E6E" stroke-width="1"/>
<path d="M29.8,279.7 H36.8" stroke="#8C8C8C" stroke-width="1"/>
<text x="27.5" y="282.35" text-anchor="end" class="tk">110</text>
<path d="M29.8,305.7 H36.8" stroke="#8C8C8C" stroke-width="1"/>
<text x="27.5" y="308.35" text-anchor="end" class="tk">100</text>
<path d="M29.8,331.7 H36.8" stroke="#8C8C8C" stroke-width="1"/>
<text x="27.5" y="334.35" text-anchor="end" class="tk">90</text>
<path d="M29.8,357.7 H36.8" stroke="#8C8C8C" stroke-width="1"/>
<text x="27.5" y="360.35" text-anchor="end" class="tk">80</text>
<path d="M29.8,383.7 H36.8" stroke="#8C8C8C" stroke-width="1"/>
<text x="27.5" y="386.35" text-anchor="end" class="tk">70</text>
<path d="M29.8,409.7 H36.8" stroke="#8C8C8C" stroke-width="1"/>
<text x="27.5" y="412.35" text-anchor="end" class="tk">60</text>
<path d="M29.8,435.7 H36.8" stroke="#8C8C8C" stroke-width="1"/>
<text x="27.5" y="438.35" text-anchor="end" class="tk">50</text>
<path d="M29.8,461.7 H36.8" stroke="#8C8C8C" stroke-width="1"/>
<text x="27.5" y="464.35" text-anchor="end" class="tk">40</text>
<path d="M33.3,458.1 V465.3" stroke="#8C8C8C" stroke-width="1"/>
<text x="33.3" y="472.8" text-anchor="middle" class="tk">0</text>
<path d="M62.3,458.1 V465.3" stroke="#8C8C8C" stroke-width="1"/>
<text x="62.3" y="472.8" text-anchor="middle" class="tk">1000</text>
<path d="M91.6,458.1 V465.3" stroke="#8C8C8C" stroke-width="1"/>
<text x="91.6" y="472.8" text-anchor="middle" class="tk">2000</text>
<path d="M120.6,458.1 V465.3" stroke="#8C8C8C" stroke-width="1"/>
<text x="120.6" y="472.8" text-anchor="middle" class="tk">3000</text>
<text x="73.6" y="263.1" text-anchor="middle" class="tt">P6</text>
<text transform="translate(7.5,369.7) rotate(-90)" text-anchor="middle" class="al">Elevation (m)</text>
<text x="80.25" y="486.9" text-anchor="middle" class="al">Vp (m/s)</text>
<polyline points="45.5,311.5 54.6,323.8 56.5,335.8 59.6,348.3 61.6,359.7 65.7,371.3 69.6,383.6 69.9,395.8 69.9,408.1 73.9,419.5 86.4,432 96.9,443.9" fill="none" stroke="#1A628B" stroke-width="1.8" stroke-linejoin="round"/>
<path d="M45.5,308.2 l3.3,3.3 l-3.3,3.3 l-3.3,-3.3z" fill="#1A628B"/>
<path d="M54.6,320.5 l3.3,3.3 l-3.3,3.3 l-3.3,-3.3z" fill="#1A628B"/>
<path d="M56.5,332.5 l3.3,3.3 l-3.3,3.3 l-3.3,-3.3z" fill="#1A628B"/>
<path d="M59.6,345 l3.3,3.3 l-3.3,3.3 l-3.3,-3.3z" fill="#1A628B"/>
<path d="M61.6,356.4 l3.3,3.3 l-3.3,3.3 l-3.3,-3.3z" fill="#1A628B"/>
<path d="M65.7,368 l3.3,3.3 l-3.3,3.3 l-3.3,-3.3z" fill="#1A628B"/>
<path d="M69.6,380.3 l3.3,3.3 l-3.3,3.3 l-3.3,-3.3z" fill="#1A628B"/>
<path d="M69.9,392.5 l3.3,3.3 l-3.3,3.3 l-3.3,-3.3z" fill="#1A628B"/>
<path d="M69.9,404.8 l3.3,3.3 l-3.3,3.3 l-3.3,-3.3z" fill="#1A628B"/>
<path d="M73.9,416.2 l3.3,3.3 l-3.3,3.3 l-3.3,-3.3z" fill="#1A628B"/>
<path d="M86.4,428.7 l3.3,3.3 l-3.3,3.3 l-3.3,-3.3z" fill="#1A628B"/>
<path d="M96.9,440.6 l3.3,3.3 l-3.3,3.3 l-3.3,-3.3z" fill="#1A628B"/>
<path d="M45.5,311.5 C46.65,313.57 50.93,319.7 52.4,323.9 C53.87,328.1 53.37,332.12 54.3,336.7 C55.23,341.28 56.47,346.2 58,351.4 C59.53,356.6 61.88,362.1 63.5,367.9 C65.12,373.7 66.42,381.03 67.7,386.2 C68.98,391.37 70,394.95 71.2,398.9 C72.4,402.85 73.37,406.38 74.9,409.9 C76.43,413.42 78.42,416.63 80.4,420 C82.38,423.37 85.27,426.12 86.8,430.1 C88.33,434.08 89.13,441.6 89.6,443.9" fill="none" stroke="#FF0000" stroke-width="1.8" stroke-dasharray="4 2.6"/>
<path d="M38.1,332.7 H87.7" stroke="#1A1A1A" stroke-width="1.5" stroke-dasharray="4.4 4.8"/>
<path d="M43.6,420.9 H93.2" stroke="#1A1A1A" stroke-width="1.5" stroke-dasharray="4.4 4.8"/>
<text transform="translate(87.6,378.8) rotate(-90)" text-anchor="middle" class="md r2">Mudstone</text>
<text transform="translate(97.5,378.8) rotate(-90)" text-anchor="middle" class="md r2">(Durri Fm.)</text>
<path d="M71.1,432.8 L77.7,425.9 M76.64,430.79 L77.7,425.9 L72.87,427.17" fill="none" stroke="#111" stroke-width="1.7" stroke-linejoin="miter"/>
<path d="M80.8,447 L87.7,440.2 M86.5,445.05 L87.7,440.2 L82.83,441.33" fill="none" stroke="#111" stroke-width="1.7" stroke-linejoin="miter"/>
<text x="57.8" y="440.2" text-anchor="middle" class="an r2">x=243 m</text>
<text x="73.6" y="454.4" text-anchor="middle" class="an r2">x=121 m</text>
<path d="M172.7,277.3 H259.4 V463" fill="none" stroke="#A8A8A8" stroke-width="1"/>
<path d="M169.2,461.5 H260.4" fill="none" stroke="#A6A6A6" stroke-width="1.2"/>
<path d="M172.5,273.8 V465.1" fill="none" stroke="#6E6E6E" stroke-width="1"/>
<path d="M169.2,277.3 H176.2" stroke="#8C8C8C" stroke-width="1"/>
<text x="166.9" y="279.95" text-anchor="end" class="tk">110</text>
<path d="M169.2,303.61 H176.2" stroke="#8C8C8C" stroke-width="1"/>
<text x="166.9" y="306.26" text-anchor="end" class="tk">100</text>
<path d="M169.2,329.93 H176.2" stroke="#8C8C8C" stroke-width="1"/>
<text x="166.9" y="332.58" text-anchor="end" class="tk">90</text>
<path d="M169.2,356.24 H176.2" stroke="#8C8C8C" stroke-width="1"/>
<text x="166.9" y="358.89" text-anchor="end" class="tk">80</text>
<path d="M169.2,382.56 H176.2" stroke="#8C8C8C" stroke-width="1"/>
<text x="166.9" y="385.21" text-anchor="end" class="tk">70</text>
<path d="M169.2,408.87 H176.2" stroke="#8C8C8C" stroke-width="1"/>
<text x="166.9" y="411.52" text-anchor="end" class="tk">60</text>
<path d="M169.2,435.19 H176.2" stroke="#8C8C8C" stroke-width="1"/>
<text x="166.9" y="437.84" text-anchor="end" class="tk">50</text>
<path d="M169.2,461.5 H176.2" stroke="#8C8C8C" stroke-width="1"/>
<text x="166.9" y="464.15" text-anchor="end" class="tk">40</text>
<path d="M172.7,457.9 V465.1" stroke="#8C8C8C" stroke-width="1"/>
<text x="172.7" y="472.6" text-anchor="middle" class="tk">0</text>
<path d="M201.7,457.9 V465.1" stroke="#8C8C8C" stroke-width="1"/>
<text x="201.7" y="472.6" text-anchor="middle" class="tk">1000</text>
<path d="M230.5,457.9 V465.1" stroke="#8C8C8C" stroke-width="1"/>
<text x="230.5" y="472.6" text-anchor="middle" class="tk">2000</text>
<path d="M259.4,457.9 V465.1" stroke="#8C8C8C" stroke-width="1"/>
<text x="259.4" y="472.6" text-anchor="middle" class="tk">3000</text>
<text x="213.6" y="262.1" text-anchor="middle" class="tt">P7</text>
<text transform="translate(147.3,369.1) rotate(-90)" text-anchor="middle" class="al">Elevation (m)</text>
<text x="219.5" y="486.7" text-anchor="middle" class="al">Vp (m/s)</text>
<polyline points="184.2,306 197.4,318.9 200.2,333.2 204.8,346.1 205.7,359 205.7,372.2 205.9,385 207.2,398.5 211.2,412.7 223.1,423.7 237.6,438.4" fill="none" stroke="#1A628B" stroke-width="1.8" stroke-linejoin="round"/>
<path d="M184.2,303.2 l2.8,2.8 l-2.8,2.8 l-2.8,-2.8z" fill="#1A628B"/>
<path d="M197.4,316.1 l2.8,2.8 l-2.8,2.8 l-2.8,-2.8z" fill="#1A628B"/>
<path d="M200.2,330.4 l2.8,2.8 l-2.8,2.8 l-2.8,-2.8z" fill="#1A628B"/>
<path d="M204.8,343.3 l2.8,2.8 l-2.8,2.8 l-2.8,-2.8z" fill="#1A628B"/>
<path d="M205.7,356.2 l2.8,2.8 l-2.8,2.8 l-2.8,-2.8z" fill="#1A628B"/>
<path d="M205.7,369.4 l2.8,2.8 l-2.8,2.8 l-2.8,-2.8z" fill="#1A628B"/>
<path d="M205.9,382.2 l2.8,2.8 l-2.8,2.8 l-2.8,-2.8z" fill="#1A628B"/>
<path d="M207.2,395.7 l2.8,2.8 l-2.8,2.8 l-2.8,-2.8z" fill="#1A628B"/>
<path d="M211.2,409.9 l2.8,2.8 l-2.8,2.8 l-2.8,-2.8z" fill="#1A628B"/>
<path d="M223.1,420.9 l2.8,2.8 l-2.8,2.8 l-2.8,-2.8z" fill="#1A628B"/>
<path d="M237.6,435.6 l2.8,2.8 l-2.8,2.8 l-2.8,-2.8z" fill="#1A628B"/>
<polyline points="191,306 196.5,319.8 197.4,333.2 199.2,346.1 200.7,359 201.6,372.2 203.8,385.2 206.6,398.5 209.9,411.8 224.6,424.6 235.1,438.4" fill="none" stroke="#EE772F" stroke-width="1.8" stroke-linejoin="round"/>
<rect x="187.85" y="302.85" width="6.3" height="6.3" fill="#EE772F"/>
<rect x="193.35" y="316.65" width="6.3" height="6.3" fill="#EE772F"/>
<rect x="194.25" y="330.05" width="6.3" height="6.3" fill="#EE772F"/>
<rect x="196.05" y="342.95" width="6.3" height="6.3" fill="#EE772F"/>
<rect x="197.55" y="355.85" width="6.3" height="6.3" fill="#EE772F"/>
<rect x="198.45" y="369.05" width="6.3" height="6.3" fill="#EE772F"/>
<rect x="200.65" y="382.05" width="6.3" height="6.3" fill="#EE772F"/>
<rect x="203.45" y="395.35" width="6.3" height="6.3" fill="#EE772F"/>
<rect x="206.75" y="408.65" width="6.3" height="6.3" fill="#EE772F"/>
<rect x="221.45" y="421.45" width="6.3" height="6.3" fill="#EE772F"/>
<rect x="231.95" y="435.25" width="6.3" height="6.3" fill="#EE772F"/>
<path d="M185.9,306.5 C186.73,307.65 189.62,311.25 190.9,313.4 C192.18,315.55 193.08,317.25 193.6,319.4 C194.12,321.55 193.78,323.87 194,326.3 C194.22,328.73 194.35,331.92 194.9,334 C195.45,336.08 196.47,337.13 197.3,338.8 C198.13,340.47 198.57,340.8 199.9,344 C201.23,347.2 203.65,353.5 205.3,358 C206.95,362.5 208.22,366.65 209.8,371 C211.38,375.35 213.05,379.75 214.8,384.1 C216.55,388.45 218.48,393.02 220.3,397.1 C222.12,401.18 224.22,405.05 225.7,408.6 C227.18,412.15 227.95,415.42 229.2,418.4 C230.45,421.38 232.37,423.32 233.2,426.5 C234.03,429.68 234.03,435.67 234.2,437.5" fill="none" stroke="#FF0000" stroke-width="1.8" stroke-dasharray="4 2.6"/>
<path d="M183.6,334.9 H232.3" stroke="#1A1A1A" stroke-width="1.5" stroke-dasharray="4.4 4.8"/>
<path d="M184.5,414 H233.2" stroke="#1A1A1A" stroke-width="1.5" stroke-dasharray="4.4 4.8"/>
<text transform="translate(232.2,372.8) rotate(-90)" text-anchor="middle" class="md r2">Mudstone</text>
<text transform="translate(244,372.8) rotate(-90)" text-anchor="middle" class="md r2">(Durri Fm.)</text>
<path d="M207.5,425.5 L215.4,419.1 M213.73,423.81 L215.4,419.1 L210.44,419.75" fill="none" stroke="#111" stroke-width="1.7" stroke-linejoin="miter"/>
<path d="M222.2,437.5 L230.5,430.1 M229.06,434.89 L230.5,430.1 L225.58,430.99" fill="none" stroke="#111" stroke-width="1.7" stroke-linejoin="miter"/>
<path d="M239.8,445.7 L233.9,426.8 M237.66,430.09 L233.9,426.8 L232.68,431.65" fill="none" stroke="#111" stroke-width="1.1" stroke-linejoin="miter"/>
<text x="193.7" y="432.3" text-anchor="middle" class="an r2">x=144 m</text>
<text x="216.7" y="446.1" text-anchor="middle" class="an r2">x=27 m</text>
<text x="241.5" y="455.6" text-anchor="middle" class="an r2">x=254 m</text>
<path d="M314.4,277.1 H400.5 V461.7" fill="none" stroke="#A8A8A8" stroke-width="1"/>
<path d="M310.9,460.2 H401.5" fill="none" stroke="#A6A6A6" stroke-width="1.2"/>
<path d="M314.5,273.6 V463.8" fill="none" stroke="#6E6E6E" stroke-width="1"/>
<path d="M310.9,277.1 H317.9" stroke="#8C8C8C" stroke-width="1"/>
<text x="308.6" y="279.75" text-anchor="end" class="tk">110</text>
<path d="M310.9,303.26 H317.9" stroke="#8C8C8C" stroke-width="1"/>
<text x="308.6" y="305.91" text-anchor="end" class="tk">100</text>
<path d="M310.9,329.41 H317.9" stroke="#8C8C8C" stroke-width="1"/>
<text x="308.6" y="332.06" text-anchor="end" class="tk">90</text>
<path d="M310.9,355.57 H317.9" stroke="#8C8C8C" stroke-width="1"/>
<text x="308.6" y="358.22" text-anchor="end" class="tk">80</text>
<path d="M310.9,381.73 H317.9" stroke="#8C8C8C" stroke-width="1"/>
<text x="308.6" y="384.38" text-anchor="end" class="tk">70</text>
<path d="M310.9,407.89 H317.9" stroke="#8C8C8C" stroke-width="1"/>
<text x="308.6" y="410.54" text-anchor="end" class="tk">60</text>
<path d="M310.9,434.04 H317.9" stroke="#8C8C8C" stroke-width="1"/>
<text x="308.6" y="436.69" text-anchor="end" class="tk">50</text>
<path d="M310.9,460.2 H317.9" stroke="#8C8C8C" stroke-width="1"/>
<text x="308.6" y="462.85" text-anchor="end" class="tk">40</text>
<path d="M314.4,456.6 V463.8" stroke="#8C8C8C" stroke-width="1"/>
<text x="314.4" y="471.3" text-anchor="middle" class="tk">0</text>
<path d="M343.5,456.6 V463.8" stroke="#8C8C8C" stroke-width="1"/>
<text x="343.5" y="471.3" text-anchor="middle" class="tk">1000</text>
<path d="M371.9,456.6 V463.8" stroke="#8C8C8C" stroke-width="1"/>
<text x="371.9" y="471.3" text-anchor="middle" class="tk">2000</text>
<path d="M400.5,456.6 V463.8" stroke="#8C8C8C" stroke-width="1"/>
<text x="400.5" y="471.3" text-anchor="middle" class="tk">3000</text>
<text x="353.7" y="262.1" text-anchor="middle" class="tt">P8</text>
<text transform="translate(287.3,368) rotate(-90)" text-anchor="middle" class="al">Elevation (m)</text>
<text x="360.7" y="485.2" text-anchor="middle" class="al">Vp (m/s)</text>
<polyline points="325.5,305.7 336.5,318.5 337.8,331.8 340.2,345 341.4,357.8 344.4,370.7 346.4,384 348.4,397 351.2,409.9 363.1,423.1 375.6,436" fill="none" stroke="#1A628B" stroke-width="1.8" stroke-linejoin="round"/>
<path d="M325.5,302.4 l3.3,3.3 l-3.3,3.3 l-3.3,-3.3z" fill="#1A628B"/>
<path d="M336.5,315.2 l3.3,3.3 l-3.3,3.3 l-3.3,-3.3z" fill="#1A628B"/>
<path d="M337.8,328.5 l3.3,3.3 l-3.3,3.3 l-3.3,-3.3z" fill="#1A628B"/>
<path d="M340.2,341.7 l3.3,3.3 l-3.3,3.3 l-3.3,-3.3z" fill="#1A628B"/>
<path d="M341.4,354.5 l3.3,3.3 l-3.3,3.3 l-3.3,-3.3z" fill="#1A628B"/>
<path d="M344.4,367.4 l3.3,3.3 l-3.3,3.3 l-3.3,-3.3z" fill="#1A628B"/>
<path d="M346.4,380.7 l3.3,3.3 l-3.3,3.3 l-3.3,-3.3z" fill="#1A628B"/>
<path d="M348.4,393.7 l3.3,3.3 l-3.3,3.3 l-3.3,-3.3z" fill="#1A628B"/>
<path d="M351.2,406.6 l3.3,3.3 l-3.3,3.3 l-3.3,-3.3z" fill="#1A628B"/>
<path d="M363.1,419.8 l3.3,3.3 l-3.3,3.3 l-3.3,-3.3z" fill="#1A628B"/>
<path d="M375.6,432.7 l3.3,3.3 l-3.3,3.3 l-3.3,-3.3z" fill="#1A628B"/>
<path d="M328.5,305.5 C329.43,308.75 332.3,318.75 334.1,325 C335.9,331.25 337.72,337.5 339.3,343 C340.88,348.5 342.3,353.5 343.6,358 C344.9,362.5 345.8,365.73 347.1,370 C348.4,374.27 350.2,379.32 351.4,383.6 C352.6,387.88 353.45,391.82 354.3,395.7 C355.15,399.58 355.9,404.27 356.5,406.9 C357.1,409.53 357.13,409.97 357.9,411.5 C358.67,413.03 359.95,414.57 361.1,416.1 C362.25,417.63 363.65,419.32 364.8,420.7 C365.95,422.08 367.08,423.17 368,424.4 C368.92,425.63 369.7,426.72 370.3,428.1 C370.9,429.48 371.22,431.33 371.6,432.7 C371.98,434.07 372.43,435.7 372.6,436.3" fill="none" stroke="#FF0000" stroke-width="1.8" stroke-dasharray="4 2.6"/>
<path d="M324.2,318.9 H373.2" stroke="#1A1A1A" stroke-width="1.5" stroke-dasharray="4.4 4.8"/>
<path d="M330.1,410.3 H379.7" stroke="#1A1A1A" stroke-width="1.5" stroke-dasharray="4.4 4.8"/>
<text transform="translate(368.2,364) rotate(-90)" text-anchor="middle" class="md r2">Mudstone</text>
<text transform="translate(378.6,364) rotate(-90)" text-anchor="middle" class="md r2">(Durri Fm.)</text>
<path d="M376.9,420 L370.5,427.4 M371.31,422.47 L370.5,427.4 L375.27,425.89" fill="none" stroke="#111" stroke-width="1.7" stroke-linejoin="miter"/>
<path d="M356.1,432.9 L362.2,425.5 M361.51,430.45 L362.2,425.5 L357.47,427.13" fill="none" stroke="#111" stroke-width="1.7" stroke-linejoin="miter"/>
<text x="382.4" y="420" text-anchor="middle" class="an r2">x=109 m</text>
<text x="350.6" y="439.7" text-anchor="middle" class="an r2">x=49 m</text>
<path d="M451.6,277.3 H538 V460.6" fill="none" stroke="#A8A8A8" stroke-width="1"/>
<path d="M448.1,459.1 H539" fill="none" stroke="#A6A6A6" stroke-width="1.2"/>
<path d="M451.5,273.8 V462.7" fill="none" stroke="#6E6E6E" stroke-width="1"/>
<path d="M448.1,277.3 H455.1" stroke="#8C8C8C" stroke-width="1"/>
<text x="445.8" y="279.95" text-anchor="end" class="tk">110</text>
<path d="M448.1,303.27 H455.1" stroke="#8C8C8C" stroke-width="1"/>
<text x="445.8" y="305.92" text-anchor="end" class="tk">100</text>
<path d="M448.1,329.24 H455.1" stroke="#8C8C8C" stroke-width="1"/>
<text x="445.8" y="331.89" text-anchor="end" class="tk">90</text>
<path d="M448.1,355.21 H455.1" stroke="#8C8C8C" stroke-width="1"/>
<text x="445.8" y="357.86" text-anchor="end" class="tk">80</text>
<path d="M448.1,381.19 H455.1" stroke="#8C8C8C" stroke-width="1"/>
<text x="445.8" y="383.84" text-anchor="end" class="tk">70</text>
<path d="M448.1,407.16 H455.1" stroke="#8C8C8C" stroke-width="1"/>
<text x="445.8" y="409.81" text-anchor="end" class="tk">60</text>
<path d="M448.1,433.13 H455.1" stroke="#8C8C8C" stroke-width="1"/>
<text x="445.8" y="435.78" text-anchor="end" class="tk">50</text>
<path d="M448.1,459.1 H455.1" stroke="#8C8C8C" stroke-width="1"/>
<text x="445.8" y="461.75" text-anchor="end" class="tk">40</text>
<path d="M451.6,455.5 V462.7" stroke="#8C8C8C" stroke-width="1"/>
<text x="451.6" y="470.2" text-anchor="middle" class="tk">0</text>
<path d="M480.4,455.5 V462.7" stroke="#8C8C8C" stroke-width="1"/>
<text x="480.4" y="470.2" text-anchor="middle" class="tk">1000</text>
<path d="M509.2,455.5 V462.7" stroke="#8C8C8C" stroke-width="1"/>
<text x="509.2" y="470.2" text-anchor="middle" class="tk">2000</text>
<path d="M538,455.5 V462.7" stroke="#8C8C8C" stroke-width="1"/>
<text x="538" y="470.2" text-anchor="middle" class="tk">3000</text>
<text x="491.2" y="262.1" text-anchor="middle" class="tt">P9</text>
<text transform="translate(425.3,367.4) rotate(-90)" text-anchor="middle" class="al">Elevation (m)</text>
<text x="498" y="484.9" text-anchor="middle" class="al">Vp (m/s)</text>
<polyline points="459.8,277.7 464.4,289.3 467.7,301.2 472.3,312.6 476,324.6 480,335.8 487.3,347.5 488.2,359 488.3,370.7 490.6,381.7 505.2,393.4 519.2,404.7 527,416.9 531.7,427.9" fill="none" stroke="#1A628B" stroke-width="1.8" stroke-linejoin="round"/>
<path d="M459.8,274.4 l3.3,3.3 l-3.3,3.3 l-3.3,-3.3z" fill="#1A628B"/>
<path d="M464.4,286 l3.3,3.3 l-3.3,3.3 l-3.3,-3.3z" fill="#1A628B"/>
<path d="M467.7,297.9 l3.3,3.3 l-3.3,3.3 l-3.3,-3.3z" fill="#1A628B"/>
<path d="M472.3,309.3 l3.3,3.3 l-3.3,3.3 l-3.3,-3.3z" fill="#1A628B"/>
<path d="M476,321.3 l3.3,3.3 l-3.3,3.3 l-3.3,-3.3z" fill="#1A628B"/>
<path d="M480,332.5 l3.3,3.3 l-3.3,3.3 l-3.3,-3.3z" fill="#1A628B"/>
<path d="M487.3,344.2 l3.3,3.3 l-3.3,3.3 l-3.3,-3.3z" fill="#1A628B"/>
<path d="M488.2,355.7 l3.3,3.3 l-3.3,3.3 l-3.3,-3.3z" fill="#1A628B"/>
<path d="M488.3,367.4 l3.3,3.3 l-3.3,3.3 l-3.3,-3.3z" fill="#1A628B"/>
<path d="M490.6,378.4 l3.3,3.3 l-3.3,3.3 l-3.3,-3.3z" fill="#1A628B"/>
<path d="M505.2,390.1 l3.3,3.3 l-3.3,3.3 l-3.3,-3.3z" fill="#1A628B"/>
<path d="M519.2,401.4 l3.3,3.3 l-3.3,3.3 l-3.3,-3.3z" fill="#1A628B"/>
<path d="M527,413.6 l3.3,3.3 l-3.3,3.3 l-3.3,-3.3z" fill="#1A628B"/>
<path d="M531.7,424.6 l3.3,3.3 l-3.3,3.3 l-3.3,-3.3z" fill="#1A628B"/>
<path d="M458.7,277.7 C458.5,278.42 457.35,279.92 457.5,282 C457.65,284.08 458.38,287 459.6,290.2 C460.82,293.4 462.93,297.22 464.8,301.2 C466.67,305.18 468.88,310.12 470.8,314.1 C472.72,318.08 474.62,321.12 476.3,325.1 C477.98,329.08 479.38,333.85 480.9,338 C482.42,342.15 483.98,346.43 485.4,350 C486.82,353.57 487.55,355.48 489.4,359.4 C491.25,363.32 494.35,368.8 496.5,373.5 C498.65,378.2 500.15,383.68 502.3,387.6 C504.45,391.52 506.65,394.27 509.4,397 C512.15,399.73 516.85,401.85 518.8,404 C520.75,406.15 520.52,405.98 521.1,409.9 C521.68,413.82 522.1,424.57 522.3,427.5" fill="none" stroke="#FF0000" stroke-width="1.8" stroke-dasharray="4 2.6"/>
<path d="M462.5,323.3 H511.2" stroke="#1A1A1A" stroke-width="1.5" stroke-dasharray="4.4 4.8"/>
<path d="M468.3,386.9 H517.6" stroke="#1A1A1A" stroke-width="1.5" stroke-dasharray="4.4 4.8"/>
<text transform="translate(509.3,353.4) rotate(-90)" text-anchor="middle" class="md r2">Mudstone</text>
<text transform="translate(520.6,353.4) rotate(-90)" text-anchor="middle" class="md r2">(Durri Fm.)</text>
<path d="M510.6,427.5 L518.8,419.2 M517.66,424.07 L518.8,419.2 L513.95,420.4" fill="none" stroke="#111" stroke-width="1.7" stroke-linejoin="miter"/>
<path d="M519.3,438.8 L529.3,425.1 M528.9,430.08 L529.3,425.1 L524.68,427" fill="none" stroke="#111" stroke-width="1.7" stroke-linejoin="miter"/>
<text x="500" y="434.1" text-anchor="middle" class="an r2">x=224 m</text>
<text x="516.4" y="448.2" text-anchor="middle" class="an r2">x=392 m</text>
<path d="M588.1,279.7 H675.2 V463.2" fill="none" stroke="#A8A8A8" stroke-width="1"/>
<path d="M584.6,461.7 H676.2" fill="none" stroke="#A6A6A6" stroke-width="1.2"/>
<path d="M588.5,276.2 V465.3" fill="none" stroke="#6E6E6E" stroke-width="1"/>
<path d="M584.6,279.7 H591.6" stroke="#8C8C8C" stroke-width="1"/>
<text x="582.3" y="282.35" text-anchor="end" class="tk">110</text>
<path d="M584.6,305.7 H591.6" stroke="#8C8C8C" stroke-width="1"/>
<text x="582.3" y="308.35" text-anchor="end" class="tk">100</text>
<path d="M584.6,331.7 H591.6" stroke="#8C8C8C" stroke-width="1"/>
<text x="582.3" y="334.35" text-anchor="end" class="tk">90</text>
<path d="M584.6,357.7 H591.6" stroke="#8C8C8C" stroke-width="1"/>
<text x="582.3" y="360.35" text-anchor="end" class="tk">80</text>
<path d="M584.6,383.7 H591.6" stroke="#8C8C8C" stroke-width="1"/>
<text x="582.3" y="386.35" text-anchor="end" class="tk">70</text>
<path d="M584.6,409.7 H591.6" stroke="#8C8C8C" stroke-width="1"/>
<text x="582.3" y="412.35" text-anchor="end" class="tk">60</text>
<path d="M584.6,435.7 H591.6" stroke="#8C8C8C" stroke-width="1"/>
<text x="582.3" y="438.35" text-anchor="end" class="tk">50</text>
<path d="M584.6,461.7 H591.6" stroke="#8C8C8C" stroke-width="1"/>
<text x="582.3" y="464.35" text-anchor="end" class="tk">40</text>
<path d="M588.1,458.1 V465.3" stroke="#8C8C8C" stroke-width="1"/>
<text x="588.1" y="472.8" text-anchor="middle" class="tk">0</text>
<path d="M617.3,458.1 V465.3" stroke="#8C8C8C" stroke-width="1"/>
<text x="617.3" y="472.8" text-anchor="middle" class="tk">1000</text>
<path d="M646.4,458.1 V465.3" stroke="#8C8C8C" stroke-width="1"/>
<text x="646.4" y="472.8" text-anchor="middle" class="tk">2000</text>
<path d="M675.2,458.1 V465.3" stroke="#8C8C8C" stroke-width="1"/>
<text x="675.2" y="472.8" text-anchor="middle" class="tk">3000</text>
<text x="628.8" y="265.7" text-anchor="middle" class="tt">P10</text>
<text transform="translate(561.8,370) rotate(-90)" text-anchor="middle" class="al">Elevation (m)</text>
<text x="634.9" y="487.1" text-anchor="middle" class="al">Vp (m/s)</text>
<polyline points="605,303.7 610.6,311.7 612,319.8 612.4,327.7 615.7,335.6 617,344.2 617.9,352.5 618.3,360.4 618.8,368.1 618.6,376.6 618.5,384.5 618.9,392.9 618.9,400.6 619.4,408.8 626,416.5 636.3,425.2 646.6,433 652.8,441.3" fill="none" stroke="#1A628B" stroke-width="1.8" stroke-linejoin="round"/>
<path d="M605,300.4 l3.3,3.3 l-3.3,3.3 l-3.3,-3.3z" fill="#1A628B"/>
<path d="M610.6,308.4 l3.3,3.3 l-3.3,3.3 l-3.3,-3.3z" fill="#1A628B"/>
<path d="M612,316.5 l3.3,3.3 l-3.3,3.3 l-3.3,-3.3z" fill="#1A628B"/>
<path d="M612.4,324.4 l3.3,3.3 l-3.3,3.3 l-3.3,-3.3z" fill="#1A628B"/>
<path d="M615.7,332.3 l3.3,3.3 l-3.3,3.3 l-3.3,-3.3z" fill="#1A628B"/>
<path d="M617,340.9 l3.3,3.3 l-3.3,3.3 l-3.3,-3.3z" fill="#1A628B"/>
<path d="M617.9,349.2 l3.3,3.3 l-3.3,3.3 l-3.3,-3.3z" fill="#1A628B"/>
<path d="M618.3,357.1 l3.3,3.3 l-3.3,3.3 l-3.3,-3.3z" fill="#1A628B"/>
<path d="M618.8,364.8 l3.3,3.3 l-3.3,3.3 l-3.3,-3.3z" fill="#1A628B"/>
<path d="M618.6,373.3 l3.3,3.3 l-3.3,3.3 l-3.3,-3.3z" fill="#1A628B"/>
<path d="M618.5,381.2 l3.3,3.3 l-3.3,3.3 l-3.3,-3.3z" fill="#1A628B"/>
<path d="M618.9,389.6 l3.3,3.3 l-3.3,3.3 l-3.3,-3.3z" fill="#1A628B"/>
<path d="M618.9,397.3 l3.3,3.3 l-3.3,3.3 l-3.3,-3.3z" fill="#1A628B"/>
<path d="M619.4,405.5 l3.3,3.3 l-3.3,3.3 l-3.3,-3.3z" fill="#1A628B"/>
<path d="M626,413.2 l3.3,3.3 l-3.3,3.3 l-3.3,-3.3z" fill="#1A628B"/>
<path d="M636.3,421.9 l3.3,3.3 l-3.3,3.3 l-3.3,-3.3z" fill="#1A628B"/>
<path d="M646.6,429.7 l3.3,3.3 l-3.3,3.3 l-3.3,-3.3z" fill="#1A628B"/>
<path d="M652.8,438 l3.3,3.3 l-3.3,3.3 l-3.3,-3.3z" fill="#1A628B"/>
<polyline points="603.2,303.9 617.6,312.1 618.8,319.4 619.8,327.7 621.2,335.9 621.6,344.2 622.5,352.1 623.1,360.2 623.8,368.1 623.8,376.6 624.3,384.5 624.7,392.9 625.2,400.6 626.6,408.8 631.4,416.5 641.1,425.2 650.8,433 656.3,440.7" fill="none" stroke="#EE772F" stroke-width="1.8" stroke-linejoin="round"/>
<rect x="600.05" y="300.75" width="6.3" height="6.3" fill="#EE772F"/>
<rect x="614.45" y="308.95" width="6.3" height="6.3" fill="#EE772F"/>
<rect x="615.65" y="316.25" width="6.3" height="6.3" fill="#EE772F"/>
<rect x="616.65" y="324.55" width="6.3" height="6.3" fill="#EE772F"/>
<rect x="618.05" y="332.75" width="6.3" height="6.3" fill="#EE772F"/>
<rect x="618.45" y="341.05" width="6.3" height="6.3" fill="#EE772F"/>
<rect x="619.35" y="348.95" width="6.3" height="6.3" fill="#EE772F"/>
<rect x="619.95" y="357.05" width="6.3" height="6.3" fill="#EE772F"/>
<rect x="620.65" y="364.95" width="6.3" height="6.3" fill="#EE772F"/>
<rect x="620.65" y="373.45" width="6.3" height="6.3" fill="#EE772F"/>
<rect x="621.15" y="381.35" width="6.3" height="6.3" fill="#EE772F"/>
<rect x="621.55" y="389.75" width="6.3" height="6.3" fill="#EE772F"/>
<rect x="622.05" y="397.45" width="6.3" height="6.3" fill="#EE772F"/>
<rect x="623.45" y="405.65" width="6.3" height="6.3" fill="#EE772F"/>
<rect x="628.25" y="413.35" width="6.3" height="6.3" fill="#EE772F"/>
<rect x="637.95" y="422.05" width="6.3" height="6.3" fill="#EE772F"/>
<rect x="647.65" y="429.85" width="6.3" height="6.3" fill="#EE772F"/>
<rect x="653.15" y="437.55" width="6.3" height="6.3" fill="#EE772F"/>
<path d="M598.6,303.2 C599.08,304.33 600.67,307.8 601.5,310 C602.33,312.2 602.67,313.18 603.6,316.4 C604.53,319.62 605.8,325.02 607.1,329.3 C608.4,333.58 610.25,338.32 611.4,342.1 C612.55,345.88 613.18,348.93 614,352 C614.82,355.07 615.33,356.85 616.3,360.5 C617.27,364.15 618.65,369.65 619.8,373.9 C620.95,378.15 621.9,381.95 623.2,386 C624.5,390.05 626,394.15 627.6,398.2 C629.2,402.25 630.92,406.83 632.8,410.3 C634.68,413.77 637.02,416.1 638.9,419 C640.78,421.9 642.8,424.22 644.1,427.7 C645.4,431.18 646.27,437.87 646.7,439.9" fill="none" stroke="#FF0000" stroke-width="1.8" stroke-dasharray="4 2.6"/>
<path d="M595,309.3 H644.6" stroke="#1A1A1A" stroke-width="1.5" stroke-dasharray="4.4 4.8"/>
<path d="M603.3,413.6 H651.8" stroke="#1A1A1A" stroke-width="1.5" stroke-dasharray="4.4 4.8"/>
<text transform="translate(643.2,362.8) rotate(-90)" text-anchor="middle" class="md r2">Mudstone</text>
<text transform="translate(655,362.8) rotate(-90)" text-anchor="middle" class="md r2">(Durri Fm.)</text>
<path d="M659.5,424.3 L655.7,432 M655.24,427.02 L655.7,432 L659.93,429.33" fill="none" stroke="#111" stroke-width="1.7" stroke-linejoin="miter"/>
<path d="M620.8,428.1 L627.2,420.8 M626.36,425.73 L627.2,420.8 L622.42,422.28" fill="none" stroke="#111" stroke-width="1.7" stroke-linejoin="miter"/>
<path d="M637.8,444.6 L644,437.8 M643.06,442.71 L644,437.8 L639.2,439.19" fill="none" stroke="#111" stroke-width="1.7" stroke-linejoin="miter"/>
<text x="657.6" y="421.5" text-anchor="middle" class="an r2">x=264 m</text>
<text x="618.9" y="436.1" text-anchor="middle" class="an r2">x=157 m</text>
<text x="634.9" y="452.9" text-anchor="middle" class="an r2">x=207 m</text>
</svg>
</body></html>
